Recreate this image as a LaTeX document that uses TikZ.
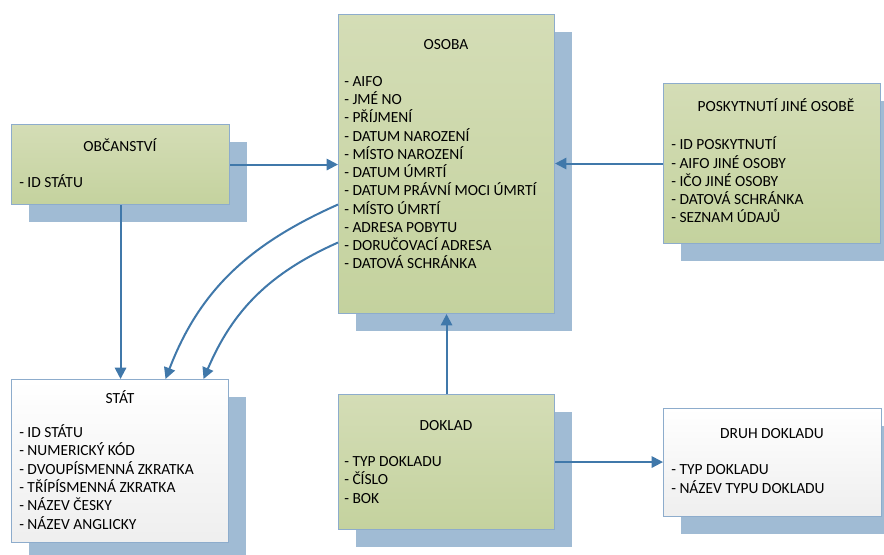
\documentclass[tikz,border=0pt]{standalone}
\usepackage{fontspec}
\setmainfont{Carlito}
\usetikzlibrary{arrows.meta, shadows, calc}
\definecolor{entitygreentop}{RGB}{212,221,182}
\definecolor{entitygreenbot}{RGB}{196,210,158}
\definecolor{entityedge}{RGB}{141,172,204}
\definecolor{entityshadow}{RGB}{160,187,212}
\definecolor{linkblue}{RGB}{64,120,170}

\begin{document}
\begin{tikzpicture}[
    x=0.75pt, y=-0.75pt,
    entity/.style={rectangle, draw=entityedge, line width=0.8pt, top color=entitygreentop, bottom color=entitygreenbot, anchor=north west, inner sep=0pt, general shadow={fill=entityshadow, shadow xshift=12.75pt, shadow yshift=-12.75pt}},
    codebook/.style={entity, top color=white, bottom color=gray!13},
    title/.style={font=\fontsize{11.6}{13.7}\selectfont, anchor=base, inner sep=0pt},
    attrs/.style={font=\fontsize{11.6}{13.7}\selectfont, align=left, anchor=base west, inner sep=0pt},
    link/.style={-{Triangle[length=8.5pt,width=8.5pt]}, line width=1.5pt, linkblue}
]
    \useasboundingbox (0,0) rectangle (884,555);

    % Entities
    \node[entity, minimum width=162pt, minimum height=224.25pt] (osoba) at (338,14) {};
    \node[entity, minimum width=163.5pt, minimum height=60pt] (obcanstvi) at (11,124) {};
    \node[entity, minimum width=162.75pt, minimum height=120pt] (poskytnuti) at (663,83) {};
    \node[codebook, minimum width=162.75pt, minimum height=122.25pt] (stat) at (11,379) {};
    \node[entity, minimum width=162pt, minimum height=101.25pt] (doklad) at (338,394) {};
    \node[codebook, minimum width=163.5pt, minimum height=81pt] (druh) at (663,408) {};

    % Titles
    \node[title] (osoba-title) at (446,50) {OSOBA};
    \node[title] (obcanstvi-title) at (120,152) {OBČANSTVÍ};
    \node[title] (poskytnuti-title) at (776,112) {POSKYTNUTÍ JINÉ OSOBĚ};
    \node[title] (stat-title) at (120,403) {STÁT};
    \node[title] (doklad-title) at (446,430) {DOKLAD};
    \node[title] (druh-title) at (772,438) {DRUH DOKLADU};

    % Attributes (base = last line)
    \node[attrs] (osoba-attrs) at (344,269) {- AIFO\\- JMÉ NO\\- PŘÍJMENÍ\\- DATUM NAROZENÍ\\- MÍSTO NAROZENÍ\\- DATUM ÚMRTÍ\\- DATUM PRÁVNÍ MOCI ÚMRTÍ\\- MÍSTO ÚMRTÍ\\- ADRESA POBYTU\\- DORUČOVACÍ ADRESA\\- DATOVÁ SCHRÁNKA};
    \node[attrs] (obcanstvi-attrs) at (19,188) {- ID STÁTU};
    \node[attrs] (poskytnuti-attrs) at (671,223) {- ID POSKYTNUTÍ\\- AIFO JINÉ OSOBY\\- IČO JINÉ OSOBY\\- DATOVÁ SCHRÁNKA\\- SEZNAM ÚDAJŮ};
    \node[attrs] (stat-attrs) at (19,529) {- ID STÁTU\\- NUMERICKÝ KÓD\\- DVOUPÍSMENNÁ ZKRATKA\\- TŘÍPÍSMENNÁ ZKRATKA\\- NÁZEV ČESKY\\- NÁZEV ANGLICKY};
    \node[attrs] (doklad-attrs) at (344,503) {- TYP DOKLADU\\- ČÍSLO\\- BOK};
    \node[attrs] (druh-attrs) at (671,493) {- TYP DOKLADU\\- NÁZEV TYPU DOKLADU};

    % Links
    \draw[link] (obcanstvi.east) -- (obcanstvi.east -| osoba.west);
    \draw[link] (poskytnuti.west) -- (poskytnuti.west -| osoba.east);
    \draw[link] (obcanstvi.south) -- (obcanstvi.south |- stat.north);
    \draw[link] (doklad.north) -- (doklad.north |- osoba.south);
    \draw[link] (doklad.east) -- (doklad.east -| druh.west);
    \draw[link] ($(osoba.west)+(0,40.5)$) to[out=204, in=69] ($(stat.north)+(45.5,0)$);
    \draw[link] ($(osoba.west)+(0,78.5)$) to[out=204, in=67] ($(stat.north)+(83.5,0)$);
\end{tikzpicture}
\end{document}
